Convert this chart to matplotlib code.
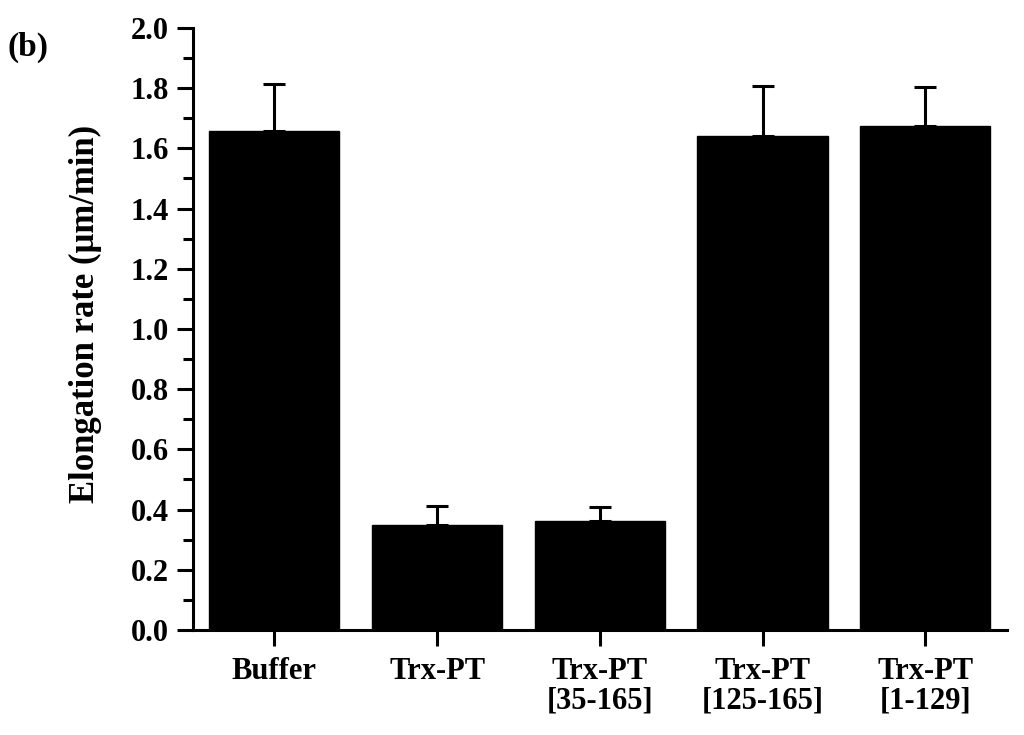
import matplotlib
matplotlib.use('Agg')
import matplotlib.pyplot as plt
import numpy as np
from matplotlib.ticker import MultipleLocator

# data
groups = ['Buffer', 'Trx-PT', 'Trx-PT\n[35-165]', 'Trx-PT\n[125-165]', 'Trx-PT\n[1-129]']
rate = [1.659, 0.349, 0.362, 1.642, 1.675]
rate_err = [0.155, 0.064, 0.046, 0.166, 0.128]

plt.rcParams['font.family'] = ['Liberation Serif', 'DejaVu Serif']
plt.rcParams['font.weight'] = 'bold'

fig = plt.figure(figsize=(10.24, 7.35), dpi=100)
ax = fig.add_axes([0.1885, 0.1429, 0.7945, 0.8191])

index = np.arange(len(groups))
ax.bar(index, rate, 0.8, color='black', edgecolor='black', linewidth=1, zorder=2)
ax.errorbar(index, rate, yerr=[np.zeros(len(rate)), rate_err], fmt='none',
            ecolor='black', elinewidth=2.2, capsize=8, capthick=2.2, zorder=1)

ax.set_xlim(-0.5, 4.5)
ax.set_ylim(0, 2.0)
ax.yaxis.set_minor_locator(MultipleLocator(0.1))
ax.set_yticks(np.arange(0, 2.01, 0.2))
ax.set_yticklabels(['%.1f' % v for v in np.arange(0, 2.01, 0.2)])
ax.set_xticks(index)
ax.set_xticklabels(groups, fontsize=22, fontweight='bold', linespacing=1.0, va='top')

for s in ['top', 'right']:
    ax.spines[s].set_visible(False)
for s in ['left', 'bottom']:
    ax.spines[s].set_linewidth(2.2)

ax.tick_params(axis='y', which='major', direction='out', length=11.5, width=2.2,
               labelsize=22, pad=6)
ax.tick_params(axis='y', which='minor', direction='out', length=7, width=2.2)
ax.tick_params(axis='x', which='major', direction='out', length=11.5, width=2.2, pad=8)
for lab in ax.get_yticklabels():
    lab.set_fontweight('bold')

ax.set_ylabel('Elongation rate (\u03bcm/min)', fontsize=25, fontweight='bold')
ax.yaxis.set_label_coords(-0.112, 0.525)

fig.text(0.007, 0.936, '(b)', fontsize=24, fontweight='bold', va='center', ha='left')

fig.savefig('out.png', dpi=100)
